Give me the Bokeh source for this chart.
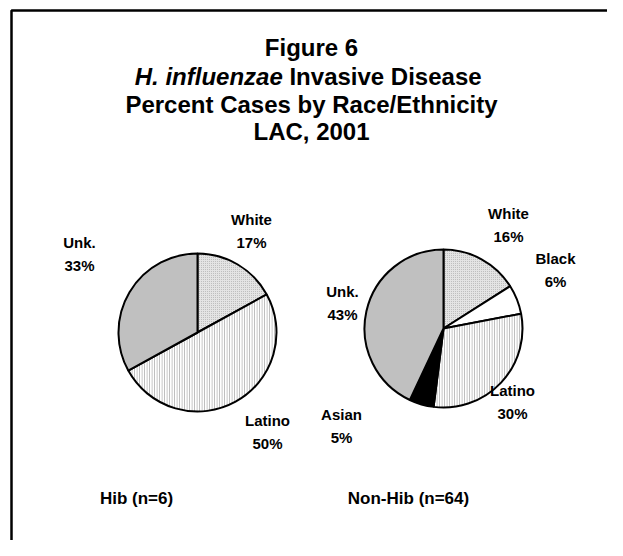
import math
from bokeh.plotting import figure
from bokeh.models import Range1d
from bokeh.core.properties import value
from bokeh.embed import file_html
from bokeh.resources import INLINE

# ---------------- data ----------------
title_lines = ["Figure 6", "Invasive Disease", "Percent Cases by Race/Ethnicity", "LAC, 2001"]
title_italic = "H. influenzae"

hib_categories = ["White", "Latino", "Unk."]
hib_values = [17, 50, 33]
nonhib_categories = ["White", "Black", "Latino", "Asian", "Unk."]
nonhib_values = [16, 6, 30, 5, 43]
pie_names = ["Hib (n=6)", "Non-Hib (n=64)"]

# ---------------- styles ----------------
STYLE = {
    "White":  dict(fill_color="#e4e4e4", hatch_pattern=".", hatch_color="#b4b4b4", hatch_scale=2, hatch_weight=1),
    "Black":  dict(fill_color="#ffffff", hatch_pattern=None),
    "Latino": dict(fill_color="#ffffff", hatch_pattern="|", hatch_color="#b0b0b0", hatch_scale=2.5, hatch_weight=1),
    "Asian":  dict(fill_color="#000000", hatch_pattern=None),
    "Unk.":   dict(fill_color="#c0c0c0", hatch_pattern=None),
}

W, H = 607, 540
# screen coordinates: x = screen x, data y = H - screen y
def Y(py):
    return H - py

p = figure(width=W, height=H, x_range=Range1d(0, W), y_range=Range1d(0, H),
           output_backend="svg", toolbar_location=None, min_border=0)
p.axis.visible = False
p.grid.visible = False
p.outline_line_color = None
p.background_fill_color = "white"
p.border_fill_color = "white"

# frame border (top & left visible; right/bottom run off the page)
p.quad(left=[11], right=[W + 60], top=[Y(10)], bottom=[-60],
       fill_color=None, line_color="black", line_width=2.5)

FONT = value("Liberation Sans")
TFS = 24
CX = 311

title_y = [47, 76, 104, 131]
p.text(x=[CX], y=[Y(title_y[0])], text=[title_lines[0]], text_font=FONT, text_font_style="bold",
       text_font_size=f"{TFS}px", text_align="center", text_baseline="middle")
# line 2: italic part + normal part, centred together
w_it, w_sp, w_rest = 5.89 * TFS, 0.278 * TFS, 8.005 * TFS
start = CX - (w_it + w_sp + w_rest) / 2
split_x = start + w_it
p.text(x=[split_x], y=[Y(title_y[1])], text=[title_italic], text_font=FONT, text_font_style="bold italic",
       text_font_size=f"{TFS}px", text_align="right", text_baseline="middle")
p.text(x=[split_x + w_sp], y=[Y(title_y[1])], text=[title_lines[1]], text_font=FONT, text_font_style="bold",
       text_font_size=f"{TFS}px", text_align="left", text_baseline="middle")
for ln, ty in zip(title_lines[2:], title_y[2:]):
    p.text(x=[CX], y=[Y(ty)], text=[ln], text_font=FONT, text_font_style="bold",
           text_font_size=f"{TFS}px", text_align="center", text_baseline="middle")

def draw_pie(cx, cy, r, cats, vals, label_pos):
    total = float(sum(vals))
    cum = 0.0
    for c, v in zip(cats, vals):
        a0 = math.pi / 2 - 2 * math.pi * (cum + v) / total
        a1 = math.pi / 2 - 2 * math.pi * cum / total
        cum += v
        st = STYLE[c]
        kw = dict(fill_color=st["fill_color"], line_color="black", line_width=2)
        if st.get("hatch_pattern"):
            kw.update(hatch_pattern=st["hatch_pattern"], hatch_color=st["hatch_color"],
                      hatch_scale=st["hatch_scale"], hatch_weight=st["hatch_weight"])
        p.wedge(x=[cx], y=[Y(cy)], radius=r, radius_units="screen",
                start_angle=a0, end_angle=a1, **kw)
    for c, v in zip(cats, vals):
        lx, ly = label_pos[c]
        p.text(x=[lx], y=[Y(ly)], text=[c], text_font=FONT, text_font_style="bold",
               text_font_size="15px", text_align="center", text_baseline="middle")
        p.text(x=[lx], y=[Y(ly + 23)], text=[f"{v}%"], text_font=FONT, text_font_style="bold",
               text_font_size="15px", text_align="center", text_baseline="middle")

draw_pie(197, 332, 79, hib_categories, hib_values,
         {"White": (251, 219), "Latino": (267, 420), "Unk.": (79, 242)})
draw_pie(443, 328, 79, nonhib_categories, nonhib_values,
         {"White": (508, 213), "Black": (555, 258), "Latino": (512, 390),
          "Asian": (341, 414), "Unk.": (342, 291)})

p.text(x=[136, 408], y=[Y(498), Y(498)], text=pie_names, text_font=FONT, text_font_style="bold",
       text_font_size="17px", text_align="center", text_baseline="middle")

open("out.html", "w").write(file_html(p, INLINE))
